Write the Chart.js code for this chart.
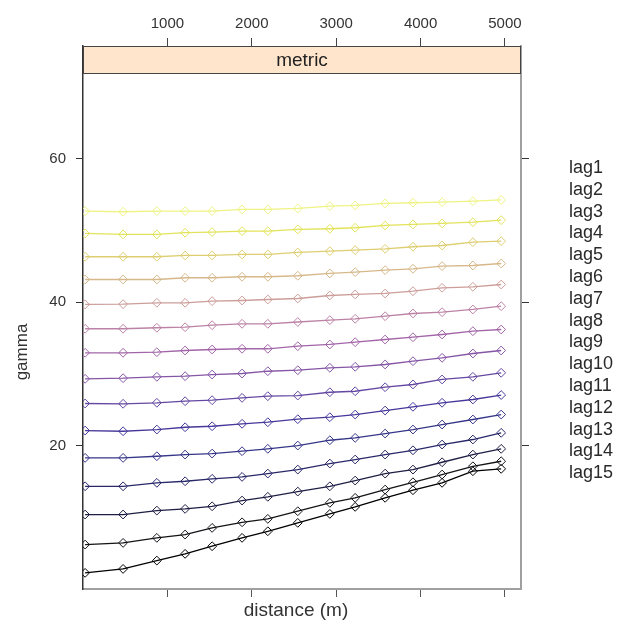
<!DOCTYPE html>
<html>
<head>
<meta charset="utf-8">
<script src="https://cdn.jsdelivr.net/npm/chart.js@4.4.1/dist/chart.umd.min.js"></script>
<style>
  html, body { margin: 0; padding: 0; background: #fff; }
  #wrap { width: 642px; height: 630px; position: relative; }
</style>
</head>
<body>
<div id="wrap"><canvas id="vgm"></canvas></div>
<script>
// =================== DATA ===================
const panelName = 'metric';
const xTitle = 'distance (m)';
const yTitle = 'gamma';
const distance = [25, 475, 875, 1210, 1530, 1885, 2190, 2545, 2925, 3225, 3580, 3910, 4255, 4620, 4955];
const lagNames = ['lag1', 'lag2', 'lag3', 'lag4', 'lag5', 'lag6', 'lag7', 'lag8',
                  'lag9', 'lag10', 'lag11', 'lag12', 'lag13', 'lag14', 'lag15'];

const lag1  = [2.25, 2.80, 3.96, 4.90, 5.96, 7.13, 8.05, 9.22, 10.47, 11.45, 12.71, 13.77, 14.80, 16.42, 16.75];
const lag2  = [6.19, 6.43, 7.13, 7.59, 8.52, 9.30, 9.78, 10.84, 12.01, 12.71, 13.86, 14.88, 15.96, 17.11, 17.81];
const lag3  = [10.38, 10.38, 10.93, 11.17, 11.53, 12.33, 12.85, 13.58, 14.32, 15.12, 16.09, 16.65, 17.67, 18.74, 19.54];
const lag4  = [14.32, 14.32, 14.80, 15.02, 15.36, 15.63, 16.09, 16.65, 17.49, 18.05, 18.74, 19.34, 20.14, 20.84, 21.77];
const lag5  = [18.28, 18.28, 18.51, 18.74, 18.88, 19.21, 19.54, 20.00, 20.74, 21.07, 21.67, 22.23, 22.93, 23.63, 24.32];
const lag6  = [22.09, 21.99, 22.23, 22.55, 22.69, 23.03, 23.25, 23.67, 23.95, 24.32, 24.88, 25.40, 25.96, 26.42, 27.04];
const lag7  = [25.86, 25.82, 25.96, 26.18, 26.32, 26.65, 26.88, 26.97, 27.43, 27.57, 28.13, 28.51, 29.21, 29.58, 30.14];
const lag8  = [29.30, 29.39, 29.58, 29.67, 29.90, 30.04, 30.36, 30.50, 30.84, 30.98, 31.30, 31.76, 32.23, 32.83, 33.25];
const lag9  = [32.93, 32.93, 33.01, 33.25, 33.39, 33.49, 33.49, 33.85, 34.09, 34.41, 34.78, 35.10, 35.48, 35.94, 36.18];
const lag10 = [36.28, 36.28, 36.42, 36.50, 36.78, 36.97, 36.97, 37.22, 37.48, 37.67, 38.03, 38.41, 38.59, 38.97, 39.43];
const lag11 = [39.67, 39.71, 39.90, 39.90, 40.13, 40.22, 40.36, 40.50, 40.92, 41.06, 41.20, 41.52, 41.99, 42.13, 42.45];
const lag12 = [43.15, 43.15, 43.15, 43.39, 43.39, 43.53, 43.53, 43.67, 43.99, 44.17, 44.45, 44.64, 45.01, 45.10, 45.38];
const lag13 = [46.32, 46.32, 46.32, 46.50, 46.50, 46.64, 46.64, 46.92, 47.10, 47.24, 47.43, 47.71, 47.89, 48.35, 48.49];
const lag14 = [49.57, 49.43, 49.43, 49.67, 49.75, 49.89, 49.89, 50.13, 50.22, 50.36, 50.68, 50.82, 50.96, 51.14, 51.42];
const lag15 = [52.68, 52.59, 52.68, 52.68, 52.68, 52.91, 52.91, 53.05, 53.38, 53.47, 53.75, 53.85, 53.93, 54.07, 54.24];

const lagValues = [lag1, lag2, lag3, lag4, lag5, lag6, lag7, lag8, lag9, lag10, lag11, lag12, lag13, lag14, lag15];
const lagColors = ['#000000', '#141418', '#1e1e44', '#28286a', '#363688', '#45389a', '#6448a2', '#8656a6',
                   '#a266a8', '#bc82a6', '#cc9e9a', '#d6b88a', '#dece72', '#e2e35a', '#eef384'];

const xTicks = [1000, 2000, 3000, 4000, 5000];
const yTicks = [20, 40, 60];
const xMax = 5190;
const yMax = 75.7;

const FONT = "'Liberation Sans', Arial, sans-serif";

// =================== PLUGINS ===================
// lattice-style strip on top of the panel
const stripPlugin = {
  id: 'strip',
  afterDatasetsDraw(chart) {
    const { ctx, chartArea } = chart;
    const h = 27;
    ctx.save();
    ctx.fillStyle = '#ffe5cc';
    ctx.fillRect(chartArea.left, chartArea.top, chartArea.right - chartArea.left, h);
    ctx.strokeStyle = '#444';
    ctx.lineWidth = 1;
    ctx.strokeRect(chartArea.left + 0.5, chartArea.top + 0.5, chartArea.right - chartArea.left - 1, h);
    ctx.fillStyle = '#222';
    ctx.font = '19px ' + FONT;
    ctx.textAlign = 'center';
    ctx.textBaseline = 'middle';
    ctx.fillText(panelName, (chartArea.left + chartArea.right) / 2, chartArea.top + h / 2 + 1);
    ctx.restore();
  }
};

// axis titles + text-only key on the right
const textPlugin = {
  id: 'texts',
  afterDraw(chart) {
    const { ctx } = chart;
    ctx.save();
    ctx.fillStyle = '#333';
    ctx.textBaseline = 'middle';

    ctx.font = '19px ' + FONT;
    ctx.textAlign = 'center';
    ctx.fillText(xTitle, 296, 611);

    ctx.save();
    ctx.translate(22, 352);
    ctx.rotate(-Math.PI / 2);
    ctx.font = '17px ' + FONT;
    ctx.fillText(yTitle, 0, 0);
    ctx.restore();

    ctx.font = '18px ' + FONT;
    ctx.fillStyle = '#2a2a2a';
    ctx.textAlign = 'left';
    chart.data.datasets.forEach((ds, i) => {
      ctx.fillText(ds.label, 569, 168 + i * 21.8);
    });
    ctx.restore();
  }
};

// =================== CHART ===================
const datasets = lagValues.map((vals, i) => ({
  label: lagNames[i],
  data: vals.map((v, j) => ({ x: distance[j], y: v })),
  borderColor: lagColors[i],
  backgroundColor: 'transparent',
  pointBorderColor: lagColors[i],
  pointBackgroundColor: 'transparent',
  pointStyle: 'rectRot',
  pointRadius: 4.4,
  pointBorderWidth: 1,
  borderWidth: 1.3,
  tension: 0
}));

const setTicks = list => scale => { scale.ticks = list.map(v => ({ value: v })); };
const plain = v => String(v);

new Chart(document.getElementById('vgm'), {
  type: 'line',
  data: { datasets },
  options: {
    responsive: true,
    maintainAspectRatio: false,
    animation: false,
    layout: { padding: 0 },
    plugins: { legend: { display: false }, tooltip: { enabled: false } },
    scales: {
      x: {
        type: 'linear', position: 'bottom', min: 0, max: xMax,
        afterBuildTicks: setTicks(xTicks),
        afterFit: s => { s.height = 41; },
        ticks: { display: false },
        grid: { drawOnChartArea: false, drawTicks: true, tickLength: 8, color: '#555' },
        border: { display: true, color: '#a0a0a0', width: 2 }
      },
      x2: {
        type: 'linear', position: 'top', min: 0, max: xMax,
        afterBuildTicks: setTicks(xTicks),
        afterFit: s => { s.height = 46; },
        ticks: { color: '#333', font: { family: FONT, size: 15 }, padding: 5, maxRotation: 0, callback: plain },
        grid: { drawOnChartArea: false, drawTicks: true, tickLength: 8, color: '#444' },
        border: { display: true, color: '#444', width: 1 }
      },
      y: {
        type: 'linear', position: 'left', min: 0, max: yMax,
        afterBuildTicks: setTicks(yTicks),
        afterFit: s => { s.width = 83; },
        ticks: { color: '#333', font: { family: FONT, size: 15 }, padding: 10, callback: plain },
        grid: { drawOnChartArea: false, drawTicks: true, tickLength: 7, color: '#333' },
        border: { display: true, color: '#333', width: 1.5 }
      },
      y2: {
        type: 'linear', position: 'right', min: 0, max: yMax,
        afterBuildTicks: setTicks(yTicks),
        afterFit: s => { s.width = 121; },
        ticks: { display: false },
        grid: { drawOnChartArea: false, drawTicks: true, tickLength: 8, color: '#333' },
        border: { display: true, color: '#a0a0a0', width: 2 }
      }
    }
  },
  plugins: [stripPlugin, textPlugin]
});
</script>
</body>
</html>
